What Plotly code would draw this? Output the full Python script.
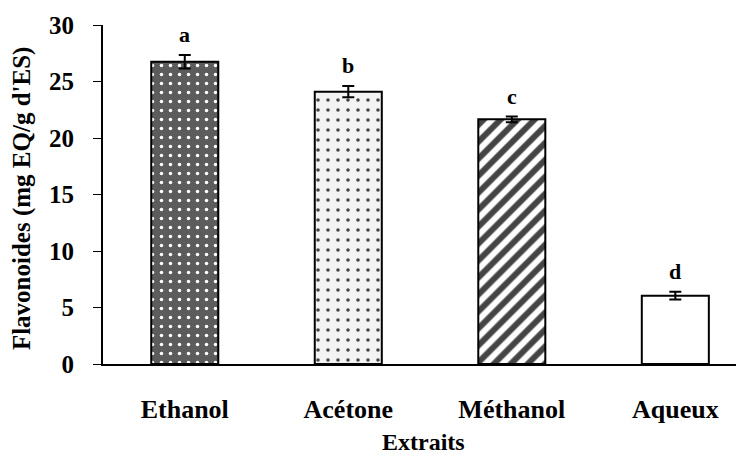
import plotly.graph_objects as go

categories = ["Ethanol", "Acétone", "Méthanol", "Aqueux"]
values = [26.75, 24.1, 21.65, 6.05]
errors = [0.6, 0.5, 0.25, 0.35]
letters = ["a", "b", "c", "d"]
y_ticks = [0, 5, 10, 15, 20, 25, 30]

FONT = "Liberation Serif"

bg_colors = ["#5c5c5c", "#f3f3f3", "#ffffff", "#ffffff"]
fg_colors = ["#e8e8e8", "#606060", "#000000", "#000000"]
shapes = [".", ".", "/", ""]
sizes = [9, 10, 12, 8]
solid = [0.12, 0.1, 0.5, 0.2]

fig = go.Figure()
fig.add_trace(go.Bar(
    x=categories,
    y=values,
    width=0.41,
    marker=dict(
        color=bg_colors,
        line=dict(color="black", width=2),
        pattern=dict(shape=shapes, fgcolor=fg_colors, bgcolor=bg_colors,
                     size=sizes, solidity=solid, fillmode="overlay",
                     fgopacity=1),
    ),
    error_y=dict(type="data", array=errors, visible=True, color="black",
                 thickness=2, width=6),
    showlegend=False,
))

for c, v, e, t in zip(categories, values, errors, letters):
    fig.add_annotation(x=c, y=v + e, text=t, showarrow=False,
                       yanchor="bottom", yshift=6,
                       font=dict(family=FONT, size=22, color="black", weight="bold"))

fig.add_annotation(xref="paper", yref="paper", x=0.5, y=-0.23, yanchor="middle",
                   text="Extraits", showarrow=False,
                   font=dict(family=FONT, size=24, color="black", weight="bold"))
fig.add_annotation(xref="paper", yref="paper", x=-0.126, xanchor="center",
                   y=0.49, yanchor="middle", text="Flavonoides (mg EQ/g d'ES)",
                   textangle=-90, showarrow=False,
                   font=dict(family=FONT, size=25, color="black", weight="bold"))

fig.update_layout(
    width=736, height=449,
    margin=dict(l=95, r=0, t=17, b=93, autoexpand=False),
    paper_bgcolor="white", plot_bgcolor="white",
    font=dict(family=FONT, color="black"),
)
fig.update_xaxes(
    range=[-0.5, 3.42],
    showline=True, linecolor="black", linewidth=2,
    ticks="", showgrid=False, zeroline=False,
    tickfont=dict(family=FONT, size=26, color="black", weight="bold"),
    ticklabelstandoff=21,
)
fig.update_yaxes(
    range=[0, 30], tickvals=y_ticks,
    showline=True, linecolor="black", linewidth=2,
    ticks="outside", ticklen=8, tickwidth=1, tickcolor="black",
    showgrid=False, zeroline=False,
    tickfont=dict(family=FONT, size=25, color="black", weight="bold"),
    ticklabelstandoff=14,
)

fig.write_html("out.html")
